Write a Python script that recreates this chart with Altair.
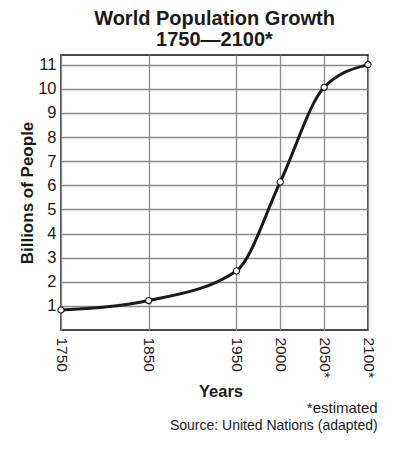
import altair as alt
import pandas as pd

years = [1750, 1850, 1950, 2000, 2050, 2100]
billions = [0.83, 1.22, 2.45, 6.14, 10.06, 11.0]
x_ticks = [1750, 1850, 1950, 2000, 2050, 2100]
y_ticks = list(range(1, 12))
notes = ["*estimated", "Source: United Nations (adapted)"]

df = pd.DataFrame({"year": years, "pop": billions})
FONT = "Liberation Sans"

x = alt.X(
    "year:Q",
    scale=alt.Scale(domain=[1750, 2100], nice=False, zero=False),
    axis=alt.Axis(
        values=x_ticks, format="d", labelAngle=90, labelAlign="left",
        labelBaseline="middle", labelPadding=7, labelFontSize=15.5,
        labelExpr="datum.value >= 2050 ? datum.label + '*' : datum.label",
        labelFlush=False, labelOverlap=False,
        ticks=False, domain=False, grid=True, gridColor="#8a8a8a", gridWidth=1.3,
        title="Years", titleFontSize=16.5, titleFontWeight="bold",
        titleX=159.5, titleY=66.7, titleAlign="center", titleBaseline="alphabetic",
    ),
)
y = alt.Y(
    "pop:Q",
    scale=alt.Scale(domain=[0, 11.4], nice=False),
    axis=alt.Axis(
        values=y_ticks, labelPadding=5, labelFontSize=16.5,
        ticks=False, domain=False, grid=True, gridColor="#8a8a8a", gridWidth=1.3,
        title="Billions of People", titleFontSize=17, titleFontWeight="bold",
        titleAngle=270, titleX=-29, titleY=137.5, titleAlign="center",
        titleBaseline="alphabetic",
    ),
)

line = alt.Chart(df).mark_line(interpolate="monotone", color="#1a1a1a", strokeWidth=3).encode(x=x, y=y)
pts = alt.Chart(df).mark_point(filled=True, fill="white", stroke="#111", strokeWidth=1.1,
                               size=38, opacity=1).encode(x=x, y=y)

note1 = alt.Chart(pd.DataFrame({"t": [notes[0]]})).mark_text(
    align="right", baseline="alphabetic", fontSize=15, font=FONT, color="#1a1a1a"
).encode(text="t:N", x=alt.value(316.7), y=alt.value(357.7))
note2 = alt.Chart(pd.DataFrame({"t": [notes[1]]})).mark_text(
    align="right", baseline="alphabetic", fontSize=14, font=FONT, color="#1a1a1a"
).encode(text="t:N", x=alt.value(316.7), y=alt.value(374.5))

chart = alt.layer(line, pts, note1, note2).properties(
    width=307, height=275,
    autosize=alt.AutoSizeParams(type="none"),
    padding={"left": 53, "top": 47, "right": 18, "bottom": 122},
    title=alt.Title(["World Population Growth", "1750\u20142100*"], fontSize=20,
                    fontWeight="bold", font=FONT, anchor="middle", frame="group",
                    lineHeight=21, offset=5, color="#1a1a1a"),
).configure_view(stroke="#111", strokeWidth=1.5).configure_axis(
    labelFont=FONT, titleFont=FONT, labelColor="#1a1a1a", titleColor="#1a1a1a"
)

chart.save("out.html", embed_options={"renderer": "svg", "actions": False})
